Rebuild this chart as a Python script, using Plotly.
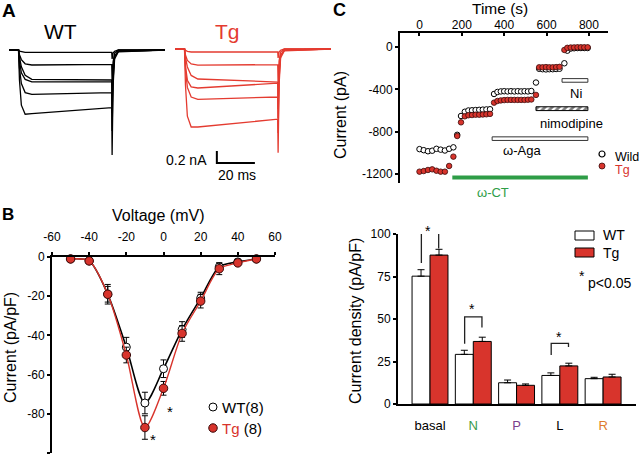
import plotly.graph_objects as go

W, H = 640, 458
FONT = "Arial, 'Liberation Sans', sans-serif"
RED = "#d8342c"
TRACE_RED = "#e43b30"
GREEN = "#2e9d47"

# ---------------- Panel A: representative Ca2+ current traces (nA) ----------------
trace_t_ms = [0, 5, 5.5, 6.5, 8.5, 12, 54, 54.2, 54.7, 55.5, 57.5, 82]
wt_traces_nA = [
    [0, 0, -0.02, -0.03, -0.04, -0.04, -0.04, -0.15, -0.05, -0.02, 0, 0],
    [0, 0, -0.08, -0.16, -0.23, -0.25, -0.24, -0.55, -0.20, -0.05, 0, 0],
    [0, 0, -0.12, -0.28, -0.42, -0.49, -0.50, -0.95, -0.35, -0.10, -0.02, 0],
    [0, 0, -0.18, -0.38, -0.49, -0.53, -0.53, -1.05, -0.40, -0.10, -0.02, 0],
    [0, 0, -0.30, -0.56, -0.71, -0.74, -0.71, -1.35, -0.50, -0.12, -0.02, 0],
    [0, 0, -0.50, -0.92, -1.07, -1.06, -0.96, -1.75, -0.60, -0.15, -0.03, 0],
]
tg_traces_nA = [
    [0, 0, -0.02, -0.04, -0.05, -0.05, -0.05, -0.15, -0.05, -0.02, 0, 0],
    [0, 0, -0.10, -0.19, -0.25, -0.27, -0.26, -0.60, -0.20, -0.05, 0, 0],
    [0, 0, -0.14, -0.30, -0.44, -0.50, -0.55, -1.00, -0.35, -0.10, -0.02, 0],
    [0, 0, -0.28, -0.52, -0.63, -0.65, -0.57, -1.15, -0.40, -0.10, -0.02, 0],
    [0, 0, -0.34, -0.64, -0.80, -0.84, -0.80, -1.40, -0.50, -0.12, -0.02, 0],
    [0, 0, -0.60, -1.12, -1.30, -1.30, -1.17, -1.73, -0.60, -0.15, -0.03, 0],
]
scalebar_nA = 0.2
scalebar_ms = 20

# ---------------- Panel B: I-V relationship ----------------
voltage_mV = [-50, -40, -30, -20, -10, 0, 10, 20, 30, 40, 50]
iv_wt = [-1, -2, -19, -46, -74.5, -57, -37, -21, -5, -2.5, -1]
iv_wt_err = [0.8, 1.2, 4.0, 5.0, 5.5, 4.5, 4.0, 3.0, 2.0, 1.0, 0.5]
iv_tg = [-1, -2, -19, -50, -87, -67, -39, -22.5, -6, -3, -1]
iv_tg_err = [0.5, 1.0, 5.0, 4.0, 6.0, 3.5, 4.0, 3.5, 3.0, 1.0, 0.5]
b_xticks = [-60, -40, -20, 0, 20, 40, 60]
b_yticks = [0, -20, -40, -60, -80, -100]

# ---------------- Panel C: time course of current with blockers ----------------
time_s = [0, 20, 40, 60, 80, 100, 120, 140, 160,
          178, 196,
          214, 231, 248, 265, 282, 299, 316, 333,
          352,
          368, 384, 400, 416, 432, 448, 464, 480, 496, 512, 528,
          550,
          565, 581, 597, 613, 629, 645, 661,
          684,
          698, 714, 730, 746, 762, 778, 794]
wild_pA = [-965, -975, -985, -980, -962, -970, -978, -962, -948,
           -830, -652,
           -612, -600, -598, -596, -594, -592, -590, -588,
           -444,
           -425, -420, -418, -420, -418, -420, -418, -420, -418, -420, -416,
           -336,
           -206, -210, -212, -210, -210, -208, -206,
           -154,
           -35, -15, -12, -10, -10, -10, -10]
tg_pA = [-1178, -1172, -1162, -1156, -1169, -1178, -1178, -1124, -1036,
         -841, -712,
         -655, -645, -643, -640, -640, -638, -636, -632,
         -526,
         -510, -505, -502, -500, -500, -500, -500, -500, -500, -498, -496,
         -453,
         -192, -192, -190, -192, -192, -190, -188,
         -28,
         -8, -5, -4, -3, -3, -3, -3]
c_xticks = [0, 200, 400, 600, 800]
c_yticks = [0, -400, -800, -1200]
drug_names = ["ω-CT", "ω-Aga", "nimodipine", "Ni"]
drug_start_s = [155, 343, 550, 673]
drug_end_s = [795, 795, 795, 795]
drug_level_pA = [-1233, -866, -583, -316]

# ---------------- Panel D: current density by channel type ----------------
channels = ["basal", "N", "P", "L", "R"]
dens_wt = [75.2, 29.2, 12.5, 16.8, 14.9]
dens_wt_err = [3.8, 2.4, 1.6, 1.5, 0.8]
dens_tg = [87.6, 36.8, 11.0, 22.4, 15.9]
dens_tg_err = [3.4, 2.5, 0.8, 1.6, 1.6]
channel_colors = ["black", "#3a9a4a", "#7b3f8c", "black", "#e07b2c"]
d_yticks = [0, 25, 50, 75, 100]


def dx(a, b):
    return [a / W, b / W]


def dy(top, bottom):
    return [1 - bottom / H, 1 - top / H]


fig = go.Figure()

# Panel A traces
for tr in wt_traces_nA:
    fig.add_trace(go.Scatter(x=trace_t_ms, y=tr, mode="lines",
                             line=dict(color="black", width=1.3),
                             xaxis="x", yaxis="y", hoverinfo="skip"))
for tr in tg_traces_nA:
    fig.add_trace(go.Scatter(x=trace_t_ms, y=tr, mode="lines",
                             line=dict(color=TRACE_RED, width=1.3),
                             xaxis="x2", yaxis="y2", hoverinfo="skip"))

# Panel B
fig.add_trace(go.Scatter(
    x=voltage_mV, y=iv_wt, mode="lines+markers", cliponaxis=False,
    line=dict(color="black", width=1.6, shape="spline", smoothing=0.8),
    marker=dict(size=8, color="white", line=dict(color="black", width=1)),
    error_y=dict(type="data", array=iv_wt_err, color="black", thickness=1, width=3),
    xaxis="x3", yaxis="y3"))
fig.add_trace(go.Scatter(
    x=voltage_mV, y=iv_tg, mode="lines+markers", cliponaxis=False,
    line=dict(color=RED, width=1.4, shape="spline", smoothing=0.8),
    marker=dict(size=8.5, color=RED, line=dict(color="#3a0a0a", width=1)),
    error_y=dict(type="data", array=iv_tg_err, color="black", thickness=1, width=3),
    xaxis="x3", yaxis="y3"))

# Panel C
fig.add_trace(go.Scatter(
    x=time_s, y=wild_pA, mode="markers", cliponaxis=False,
    marker=dict(size=5.5, color="white", line=dict(color="black", width=1)),
    xaxis="x4", yaxis="y4"))
fig.add_trace(go.Scatter(
    x=time_s, y=tg_pA, mode="markers", cliponaxis=False,
    marker=dict(size=5.5, color=RED, line=dict(color="#3a0a0a", width=0.8)),
    xaxis="x4", yaxis="y4"))
# hatched nimodipine bar
fig.add_trace(go.Bar(
    orientation="h", y=[drug_level_pA[2]], x=[drug_end_s[2] - drug_start_s[2]],
    base=[drug_start_s[2]], width=[36],
    marker=dict(color="white", line=dict(color="black", width=1),
                pattern=dict(shape="/", fgcolor="black", bgcolor="white", size=5, solidity=0.55)),
    xaxis="x4", yaxis="y4", hoverinfo="skip"))

# Panel D
x_idx = list(range(len(channels)))
fig.add_trace(go.Bar(
    x=x_idx, y=dens_wt, name="WT", offsetgroup="wt",
    marker=dict(color="white", line=dict(color="black", width=1)),
    error_y=dict(type="data", symmetric=False, array=dens_wt_err,
                 arrayminus=[0] * len(channels), color="black", thickness=1, width=3.5),
    xaxis="x5", yaxis="y5"))
fig.add_trace(go.Bar(
    x=x_idx, y=dens_tg, name="Tg", offsetgroup="tg",
    marker=dict(color=RED, line=dict(color="black", width=1)),
    error_y=dict(type="data", symmetric=False, array=dens_tg_err,
                 arrayminus=[0] * len(channels), color="black", thickness=1, width=3.5),
    xaxis="x5", yaxis="y5"))

# legend keys (pixel overlay)
fig.add_trace(go.Scatter(x=[213], y=[407], mode="markers", xaxis="x9", yaxis="y9",
                         marker=dict(size=8, color="white", line=dict(color="black", width=1))))
fig.add_trace(go.Scatter(x=[213], y=[428], mode="markers", xaxis="x9", yaxis="y9",
                         marker=dict(size=8.5, color=RED, line=dict(color="#3a0a0a", width=1))))
fig.add_trace(go.Scatter(x=[602], y=[154], mode="markers", xaxis="x9", yaxis="y9",
                         marker=dict(size=6, color="white", line=dict(color="black", width=1.2))))
fig.add_trace(go.Scatter(x=[602], y=[166], mode="markers", xaxis="x9", yaxis="y9",
                         marker=dict(size=6, color=RED, line=dict(color="#3a0a0a", width=0.8))))

shapes = []
# scale bar (Panel A, Tg axes)
sb_x0, sb_y0 = 22, -1.7
shapes.append(dict(type="path", xref="x2", yref="y2",
                   path=f"M {sb_x0},{sb_y0} L {sb_x0},{sb_y0 - scalebar_nA} L {sb_x0 + scalebar_ms},{sb_y0 - scalebar_nA}",
                   line=dict(color="black", width=2)))
# drug application bars (Panel C)
shapes.append(dict(type="line", xref="x4", yref="y4", x0=drug_start_s[0], x1=drug_end_s[0],
                   y0=drug_level_pA[0], y1=drug_level_pA[0], line=dict(color=GREEN, width=4)))
for i in (1, 3):
    shapes.append(dict(type="rect", xref="x4", yref="y4", x0=drug_start_s[i], x1=drug_end_s[i],
                       y0=drug_level_pA[i] - 17, y1=drug_level_pA[i] + 17,
                       fillcolor="white", line=dict(color="#333333", width=1)))
# significance brackets (Panel D)
brackets = [(0, 83, 100.5, 91.5), (1, 35.5, 51.3, 45.0), (3, 28.8, 35.7, 33.5)]
for ci, yl, yt, yr in brackets:
    shapes.append(dict(type="path", xref="x5", yref="y5",
                       path=f"M {ci - 0.2},{yl} L {ci - 0.2},{yt} L {ci + 0.2},{yt} L {ci + 0.2},{yr}",
                       line=dict(color="#222222", width=1.3)))
# D legend swatches
shapes.append(dict(type="rect", xref="x9", yref="y9", x0=575, x1=594, y0=231, y1=240,
                   fillcolor="white", line=dict(color="black", width=1)))
shapes.append(dict(type="rect", xref="x9", yref="y9", x0=575, x1=594, y0=248, y1=257,
                   fillcolor=RED, line=dict(color="black", width=1)))


def ann(text, x, y, size=12, color="black", xanchor="center", yanchor="middle", angle=0):
    return dict(text=text, x=x, y=y, xref="x9", yref="y9", showarrow=False,
                font=dict(family=FONT, size=size, color=color),
                xanchor=xanchor, yanchor=yanchor, textangle=angle)


annotations = [
    ann("<b>A</b>", 0, 10, 19, xanchor="left"),
    ann("<b>B</b>", 0, 214, 17, xanchor="left"),
    ann("<b>C</b>", 331, 10, 18, xanchor="left"),
    ann("WT", 60, 31, 21),
    ann("Tg", 227, 31, 21, color=TRACE_RED),
    ann("0.2 nA", 209, 160, 14, xanchor="right"),
    ann("20 ms", 237, 175, 14),
    ann("Voltage (mV)", 158, 215, 16),
    ann("Current (pA/pF)", 10, 348, 16, angle=-90),
    ann("*", 170, 411, 15),
    ann("*", 153, 439, 15),
    ann("WT(8)", 220, 407, 15, xanchor="left"),
    ann(f"<span style='color:{RED}'>Tg</span> (8)", 220, 428, 15, xanchor="left"),
    ann("Time (s)", 500, 8, 15.5),
    ann("Current (pA)", 340, 115, 16, angle=-90),
    ann(drug_names[3], 576, 93, 13),
    ann(drug_names[2], 571, 123, 13),
    ann(drug_names[1], 522, 150, 13),
    ann(drug_names[0], 493, 192, 13, color=GREEN),
    ann("Wild", 613, 157, 12.5, xanchor="left"),
    ann("Tg", 613, 170, 12.5, color=RED, xanchor="left"),
    ann("Current density (pA/pF)", 355, 321, 16, angle=-90),
    ann("WT", 601, 235, 14, xanchor="left"),
    ann("Tg", 601, 253, 14, xanchor="left"),
    ann("*", 582, 276, 14),
    ann("p<0.05", 586, 283, 14, xanchor="left"),
    ann("*", 428, 231, 14),
    ann("*", 472, 309, 14),
    ann("*", 559, 337, 14),
]

axis_common = dict(showline=True, linewidth=2, linecolor="black", showgrid=False,
                   zeroline=False, ticks="outside", ticklen=3, tickwidth=1.5,
                   tickcolor="black", tickfont=dict(family=FONT, size=12, color="black"),
                   fixedrange=True, automargin=False)

fig.update_layout(
    width=W, height=H, margin=dict(l=0, r=0, t=0, b=0, pad=0, autoexpand=False),
    paper_bgcolor="white", plot_bgcolor="rgba(0,0,0,0)",
    showlegend=False, barmode="group", bargap=0.17, bargroupgap=0,
    font=dict(family=FONT, size=12, color="black"),
    xaxis=dict(domain=dx(9, 165), range=[0, 82], visible=False, anchor="y"),
    yaxis=dict(domain=dy(40, 180), range=[-2.167, 0.167], visible=False, anchor="x"),
    xaxis2=dict(domain=dx(175, 331), range=[0, 82], visible=False, anchor="y2"),
    yaxis2=dict(domain=dy(40, 180), range=[-2.183, 0.15], visible=False, anchor="x2"),
    xaxis3=dict(domain=dx(52, 275), range=[-60, 60], side="top", anchor="y3",
                tickvals=b_xticks, ticktext=[str(v) for v in b_xticks],
                ticklabelstandoff=6, **axis_common),
    yaxis3=dict(domain=dy(257, 453), range=[-100, 0], anchor="x3",
                tickvals=b_yticks, ticktext=[str(v) for v in b_yticks], **axis_common),
    xaxis4=dict(domain=dx(400, 608), range=[-92, 890], side="top", anchor="y4",
                tickvals=c_xticks, ticktext=[str(v) for v in c_xticks],
                **{**axis_common, "ticks": "inside", "ticklabelstandoff": -3}),
    yaxis4=dict(domain=dy(33, 183), range=[-1285, 132], anchor="x4",
                tickvals=c_yticks, ticktext=[str(v) for v in c_yticks], **axis_common),
    xaxis5=dict(domain=dx(398, 636), range=[-0.74, 4.76], anchor="y5",
                tickvals=x_idx,
                ticktext=[f"<span style='color:{c}'>{n}</span>" for n, c in zip(channels, channel_colors)],
                **{**axis_common, "ticks": "", "ticklabelstandoff": 8,
                   "tickfont": dict(family=FONT, size=13, color="black")}),
    yaxis5=dict(domain=dy(234, 404), range=[0, 100], anchor="x5",
                tickvals=d_yticks, ticktext=[str(v) for v in d_yticks], **axis_common),
    xaxis9=dict(domain=[0, 1], range=[0, W], visible=False, anchor="y9", fixedrange=True),
    yaxis9=dict(domain=[0, 1], range=[H, 0], visible=False, anchor="x9", fixedrange=True),
    shapes=shapes, annotations=annotations,
)

fig.write_html("out.html", config={"displayModeBar": False},
               post_script="document.body.style.margin='0';document.body.style.overflow='hidden';")
